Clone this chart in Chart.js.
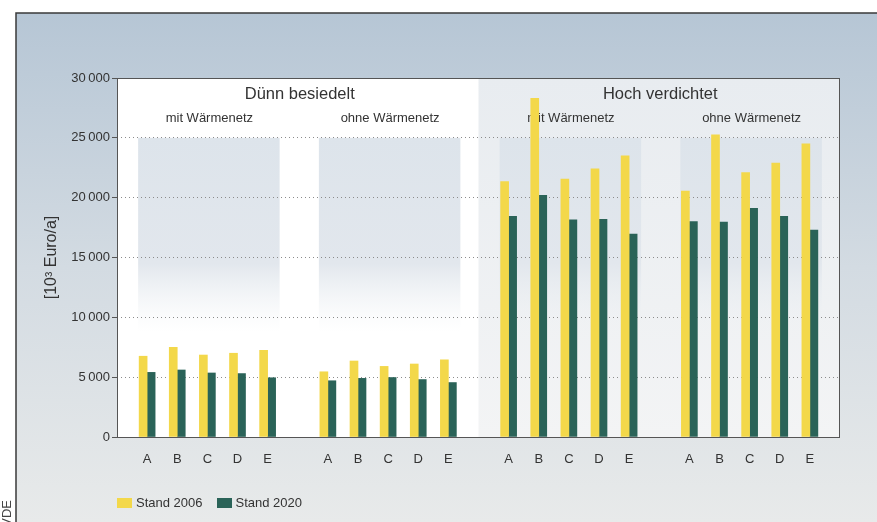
<!DOCTYPE html>
<html lang="de">
<head>
<meta charset="UTF-8">
<title>Kosten Wärmenetz</title>
<script src="https://cdn.jsdelivr.net/npm/chart.js"></script>
<style>
    body { margin: 0; background: #fff; }
    #wrap { position: relative; width: 877px; height: 522px; }
    #legend {
        position: absolute; left: 117px; top: 495px;
        font: 13px 'Liberation Sans', Arial, sans-serif; color: #333;
        display: flex; align-items: center;
    }
    #legend span.box { display: inline-block; width: 15px; height: 10px; margin-right: 4px; }
    #legend span.item { display: flex; align-items: center; margin-right: 14px; }
</style>
</head>
<body>
<div id="wrap">
    <canvas id="chart" width="877" height="522"></canvas>
    <div id="legend">
        <span class="item"><span class="box" style="background:#f3d84a"></span>Stand 2006</span>
        <span class="item"><span class="box" style="background:#2a6358"></span>Stand 2020</span>
    </div>
</div>
<script>
    // Werte
    const categories = ['A', 'B', 'C', 'D', 'E'];
    const groupTitles = ['Dünn besiedelt', 'Hoch verdichtet'];
    const subTitles = ['mit Wärmenetz', 'ohne Wärmenetz', 'mit Wärmenetz', 'ohne Wärmenetz'];

    const duennMit2006 = [6750, 7500, 6850, 7000, 7250];
    const duennMit2020 = [5400, 5600, 5350, 5300, 4950];
    const duennOhne2006 = [5450, 6350, 5900, 6100, 6450];
    const duennOhne2020 = [4700, 4900, 4970, 4800, 4550];
    const hochMit2006 = [21350, 28300, 21550, 22400, 23500];
    const hochMit2020 = [18450, 20200, 18150, 18200, 16950];
    const hochOhne2006 = [20550, 25250, 22100, 22900, 24500];
    const hochOhne2020 = [18000, 17950, 19100, 18450, 17300];

    const yTicks = [0, 5000, 10000, 15000, 20000, 25000, 30000];

    const YELLOW = '#f3d84a';
    const TEAL = '#2a6358';
    const TEXT = '#333';
    const FONT = "'Liberation Sans', Arial, sans-serif";

    // Lücken zwischen den Gruppen als leere Kategorien
    const labels = ['', ...categories, '', ...categories, '', ...categories, '', ...categories, ''];
    const join = (a, b, c, d) => [null, ...a, null, ...b, null, ...c, null, ...d, null];
    const data2006 = join(duennMit2006, duennOhne2006, hochMit2006, hochOhne2006);
    const data2020 = join(duennMit2020, duennOhne2020, hochMit2020, hochOhne2020);
    const groupStart = [1, 7, 13, 19];

    const decor = {
        id: 'decor',
        beforeDraw(chart) {
            const { ctx, chartArea: a, scales: { x, y } } = chart;
            ctx.save();
            // Hintergrund der Seite
            ctx.fillStyle = '#fff';
            ctx.fillRect(0, 0, chart.width, chart.height);
            const bg = ctx.createLinearGradient(0, 13, 0, chart.height);
            bg.addColorStop(0, '#b6c6d5');
            bg.addColorStop(0.5, '#d3dbe2');
            bg.addColorStop(1, '#e8eaea');
            ctx.fillStyle = bg;
            ctx.fillRect(16, 13, chart.width - 16, chart.height - 13);
            ctx.strokeStyle = '#3a3a3a';
            ctx.lineWidth = 1.5;
            ctx.beginPath();
            ctx.moveTo(16, chart.height);
            ctx.lineTo(16, 13);
            ctx.lineTo(chart.width, 13);
            ctx.stroke();

            // Plotfläche
            ctx.fillStyle = '#fff';
            ctx.fillRect(a.left, a.top, a.width, a.height);
            const mid = x.getPixelForValue(12);
            const rg = ctx.createLinearGradient(0, a.top, 0, a.bottom);
            rg.addColorStop(0, '#e8ecf0');
            rg.addColorStop(1, '#f3f4f5');
            ctx.fillStyle = rg;
            ctx.fillRect(mid, a.top, a.right - mid, a.height);

            // Gruppenfelder
            const top = y.getPixelForValue(25000);
            groupStart.forEach(s => {
                const x0 = x.getPixelForValue(s) - 9;
                const x1 = x.getPixelForValue(s + 4) + 12;
                const g = ctx.createLinearGradient(0, top, 0, a.bottom);
                g.addColorStop(0, '#dde4eb');
                g.addColorStop(0.42, '#e2e7ed');
                g.addColorStop(0.65, 'rgba(240,243,245,0)');
                ctx.fillStyle = g;
                ctx.fillRect(x0, top, x1 - x0, a.bottom - top);
            });

            // VDE
            ctx.translate(7, 500);
            ctx.rotate(-Math.PI / 2);
            ctx.fillStyle = '#444';
            ctx.font = '13px ' + FONT;
            ctx.textAlign = 'right';
            ctx.textBaseline = 'middle';
            ctx.fillText('©VDE', 0, 0);
            ctx.restore();
        },
        beforeDatasetsDraw(chart) {
            const { ctx, scales: { x } } = chart;
            ctx.save();
            ctx.fillStyle = TEXT;
            ctx.textAlign = 'center';
            ctx.textBaseline = 'middle';
            const centers = groupStart.map(s => (x.getPixelForValue(s) + x.getPixelForValue(s + 4)) / 2);
            ctx.font = '16.5px ' + FONT;
            ctx.fillText(groupTitles[0], (centers[0] + centers[1]) / 2 + 2, 94);
            ctx.fillText(groupTitles[1], (centers[2] + centers[3]) / 2 + 1, 94);
            ctx.font = '13px ' + FONT;
            subTitles.forEach((t, i) => ctx.fillText(t, centers[i] + 2, 118));
            ctx.restore();
        },
        afterDatasetsDraw(chart) {
            const { ctx, chartArea: a } = chart;
            ctx.save();
            ctx.strokeStyle = '#555';
            ctx.lineWidth = 1;
            ctx.strokeRect(a.left + 0.5, a.top + 0.5, a.width - 1, a.height);
            ctx.restore();
        }
    };

    new Chart(document.getElementById('chart'), {
        type: 'bar',
        data: {
            labels: labels,
            datasets: [
                { label: 'Stand 2006', data: data2006, backgroundColor: YELLOW, barThickness: 8 },
                { label: 'Stand 2020', data: data2020, backgroundColor: TEAL, barThickness: 8 }
            ]
        },
        options: {
            responsive: false,
            animation: false,
            layout: { padding: { top: 78, right: 37, bottom: 55, left: 0 } },
            plugins: {
                legend: { display: false },
                tooltip: { enabled: false }
            },
            scales: {
                x: {
                    offset: false,
                    grid: { display: false },
                    border: { display: false },
                    ticks: { color: TEXT, font: { family: FONT, size: 13 }, padding: 7, autoSkip: false, maxRotation: 0 },
                    afterFit: s => { s.height = 30; }
                },
                y: {
                    min: 0,
                    max: 30000,
                    afterBuildTicks: s => { s.ticks = yTicks.map(v => ({ value: v })); },
                    afterFit: s => { s.width = 117; },
                    ticks: {
                        color: TEXT,
                        font: { family: FONT, size: 13 },
                        padding: 2,
                        callback: v => v === 0 ? '0' : (v / 1000) + '\u202f000'
                    },
                    grid: {
                        color: c => (c.tick && (c.tick.value === 0 || c.tick.value === 30000)) ? 'rgba(0,0,0,0)' : '#8c8c8c',
                        tickColor: '#555',
                        tickLength: 5,
                        tickBorderDash: []
                    },
                    border: { display: false, dash: [1, 3] },
                    title: {
                        display: true,
                        text: '[10³ Euro/a]',
                        color: TEXT,
                        font: { family: FONT, size: 16 },
                        padding: { top: 42, bottom: 0 }
                    }
                }
            }
        },
        plugins: [decor]
    });
</script>
</body>
</html>
